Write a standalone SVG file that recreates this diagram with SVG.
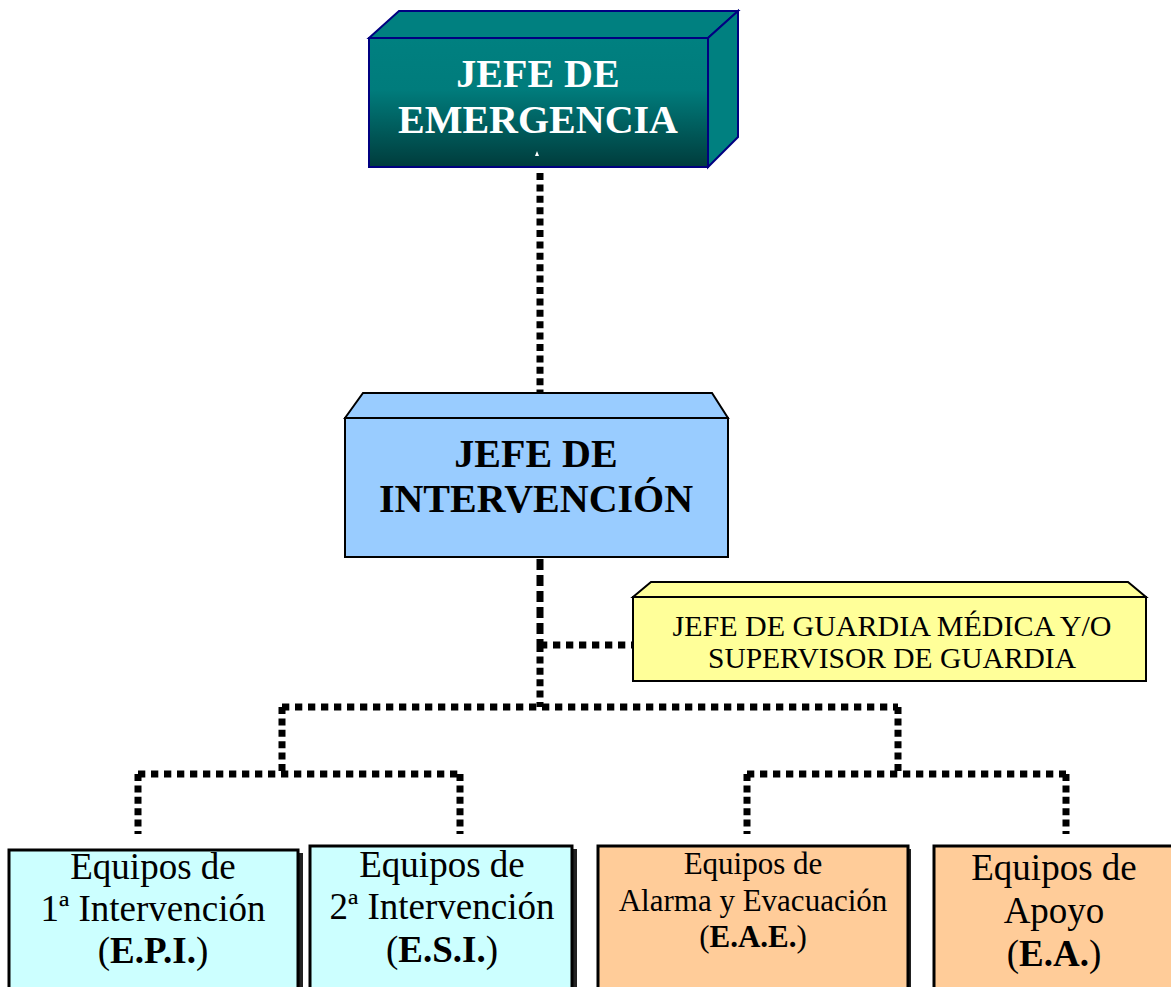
<svg xmlns="http://www.w3.org/2000/svg" width="1171" height="987" viewBox="0 0 1171 987">
<defs>
<linearGradient id="tealGrad" x1="0" y1="0" x2="0" y2="1">
<stop offset="0" stop-color="#008080"/>
<stop offset="0.4" stop-color="#007c7c"/>
<stop offset="1" stop-color="#003c3c"/>
</linearGradient>
<style>
.t{font-family:"Liberation Serif","Times New Roman",serif;text-anchor:middle}
.b{font-weight:bold}
.dv{fill:none;stroke:#000;stroke-width:7;stroke-dasharray:7 4.4}
.dh{fill:none;stroke:#000;stroke-width:7;stroke-dasharray:7.3 5.7}
.shadow{fill:#222}
.cyan{fill:#CCFFFF;stroke:#000;stroke-width:3}
.orange{fill:#FFCC99;stroke:#000;stroke-width:3}
</style>
</defs>
<rect width="1171" height="987" fill="#fff"/>

<g id="connectors">
<line class="dv" x1="540" y1="173" x2="540" y2="392"/>
<line class="dv" x1="540" y1="559" x2="540" y2="645" style="stroke-dasharray:11 5;stroke-width:7"/>
<line class="dv" x1="540" y1="645" x2="540" y2="707"/>
<line class="dh" x1="540" y1="645" x2="632" y2="645"/>
<line class="dh" x1="282" y1="707" x2="898" y2="707"/>
<line class="dv" x1="282" y1="707" x2="282" y2="774"/>
<line class="dv" x1="898" y1="707" x2="898" y2="774"/>
<line class="dh" x1="138" y1="774" x2="460" y2="774"/>
<line class="dh" x1="747" y1="774" x2="1066" y2="774"/>
<line class="dv" x1="138" y1="774" x2="138" y2="834"/>
<line class="dv" x1="460" y1="774" x2="460" y2="834"/>
<line class="dv" x1="747" y1="774" x2="747" y2="834"/>
<line class="dv" x1="1066" y1="774" x2="1066" y2="834"/>
</g>

<g id="jefe-emergencia">
<polygon points="369,38 399,11 738,11 708,38" fill="#008080" stroke="#000080" stroke-width="2"/>
<polygon points="708,38 738,11 738,137 708,167" fill="#008080" stroke="#000080" stroke-width="2"/>
<rect x="369" y="38" width="339" height="129" fill="url(#tealGrad)" stroke="#000080" stroke-width="2"/>
<text class="t b" x="538" y="87" font-size="40" fill="#fff">JEFE DE</text>
<text class="t b" x="538" y="133" font-size="40" fill="#fff">EMERGENCIA</text>
<polygon points="535,156 539,156 537,151" fill="#fff"/>
</g>

<g id="jefe-intervencion">
<polygon points="345,418 363,393 712,393 728,418" fill="#99CCFF" stroke="#000" stroke-width="2"/>
<rect x="345" y="418" width="383" height="139" fill="#99CCFF" stroke="#000" stroke-width="2"/>
<text class="t b" x="536" y="467" font-size="40" fill="#000">JEFE DE</text>
<text class="t b" x="536" y="512" font-size="40" fill="#000">INTERVENCIÓN</text>
</g>

<g id="jefe-guardia">
<polygon points="633,597 651,582 1128,582 1146,597" fill="#FFFF99" stroke="#000" stroke-width="2"/>
<rect x="633" y="597" width="513" height="84" fill="#FFFF99" stroke="#000" stroke-width="2"/>
<text class="t" x="892" y="636" font-size="29" textLength="439" lengthAdjust="spacingAndGlyphs" fill="#000">JEFE DE GUARDIA MÉDICA Y/O</text>
<text class="t" x="892" y="668" font-size="29" textLength="368" lengthAdjust="spacingAndGlyphs" fill="#000">SUPERVISOR DE GUARDIA</text>
</g>

<g id="epi">
<rect class="shadow" x="12" y="853" width="291" height="150"/>
<rect class="cyan" x="9" y="850" width="289" height="150"/>
<text class="t" x="153" y="879" font-size="37">Equipos de</text>
<text class="t" x="153" y="921" font-size="37">1ª Intervención</text>
<text class="t" x="153" y="963" font-size="37">(<tspan class="b">E.P.I.</tspan>)</text>
</g>

<g id="esi">
<rect class="shadow" x="313" y="849" width="264" height="150"/>
<rect class="cyan" x="310" y="846" width="262" height="150"/>
<text class="t" x="442" y="877" font-size="37">Equipos de</text>
<text class="t" x="442" y="919" font-size="37">2ª Intervención</text>
<text class="t" x="442" y="962" font-size="37">(<tspan class="b">E.S.I.</tspan>)</text>
</g>

<g id="eae">
<rect class="shadow" x="601" y="849" width="310" height="150"/>
<rect class="orange" x="598" y="846" width="310" height="150"/>
<text class="t" x="753" y="874" font-size="31">Equipos de</text>
<text class="t" x="753" y="911" font-size="31">Alarma y Evacuación</text>
<text class="t" x="753" y="947" font-size="31">(<tspan class="b">E.A.E.</tspan>)</text>
</g>

<g id="ea">
<rect class="shadow" x="937" y="849" width="250" height="150"/>
<rect class="orange" x="934" y="846" width="250" height="150"/>
<text class="t" x="1054" y="880" font-size="37">Equipos de</text>
<text class="t" x="1054" y="923" font-size="37">Apoyo</text>
<text class="t" x="1054" y="966" font-size="37">(<tspan class="b">E.A.</tspan>)</text>
</g>
</svg>
